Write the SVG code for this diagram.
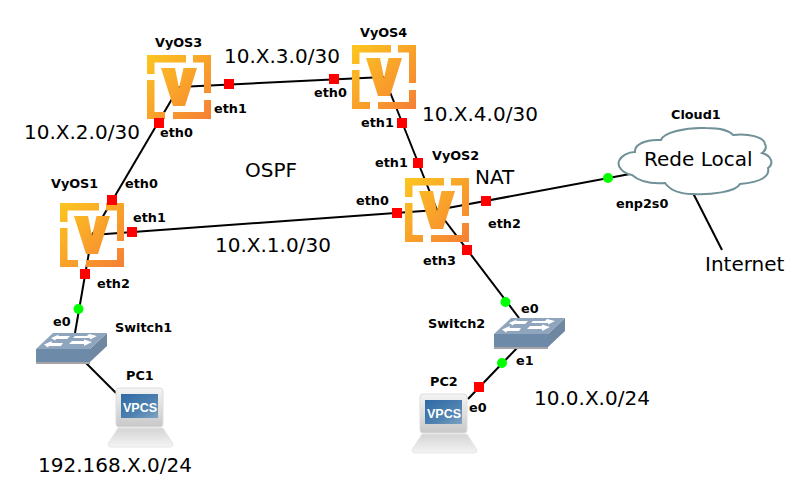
<svg xmlns="http://www.w3.org/2000/svg" width="809" height="501" viewBox="0 0 809 501">
<style>
text{font-family:"DejaVu Sans",sans-serif;fill:#000}
.l{font-size:12.800px;font-weight:bold}
.a{font-size:20px}
.c line{stroke:#000;stroke-width:2;fill:none}
.r{fill:#f00}.g{fill:#0f0}
</style>
<defs>
<linearGradient id="vg" x1="0" y1="0" x2="1" y2="1"><stop offset="0" stop-color="#fdc61f"/><stop offset="1" stop-color="#f57f35"/></linearGradient>
<linearGradient id="scr" x1="0" y1="0" x2="1" y2="1"><stop offset="0" stop-color="#2f6aa5"/><stop offset=".6" stop-color="#4f82b0"/><stop offset="1" stop-color="#7ea3c4"/></linearGradient>
<linearGradient id="base" x1="0" y1="0" x2="0" y2="1"><stop offset="0" stop-color="#d4d4d4"/><stop offset="1" stop-color="#f4f4f4"/></linearGradient>
<linearGradient id="mon" x1="0" y1="0" x2="0" y2="1"><stop offset="0" stop-color="#f4f4f4"/><stop offset="1" stop-color="#c8c8c8"/></linearGradient>
<symbol id="vyos" width="64" height="64" viewBox="0 0 64 64" overflow="visible">
<path fill="url(#vg)" d="M0 0H39V7.500H7.500V19H0ZM46 0H64V38H57V7.500H46ZM0 25H7.500V57H18V64H0ZM26 64V57H57V45H64V64ZM14 13H28L32 33L36.500 13H50L38 51H26Z"/>
</symbol>
<symbol id="switch" width="72" height="34" viewBox="0 0 72 34" overflow="visible">
<path fill="#a5a5a5" d="M0 28V31H54L54 28Z"/>
<path fill="#6d8aa8" d="M0 16H54V29H0Z"/>
<path fill="#6f87a0" d="M54 16L71 0V13L54 29Z"/>
<path fill="#8ea5bd" d="M0 16L17 0H71L54 16Z"/>
<path fill="#fff" d="M15 5L23 1.500L22 3H34L31 6H20L19 7.500ZM39 3H51L53 1L61 3L54 6.500V5H37ZM8 11.500L16 8L15.500 10H27L25 13H13L12 14.500ZM36 8H48V6.500L56 9L48 13V11H33Z"/>
</symbol>
<symbol id="pc" width="66" height="60" viewBox="0 0 66 60" overflow="visible">
<path fill="url(#base)" stroke="#e6e6e6" d="M10 40H55L65 56Q65 59 62 59H3Q0 59 0 56Z"/>
<rect x="8" y="0" width="47" height="39" rx="3" fill="url(#mon)" stroke="#ddd"/>
<rect x="13" y="6" width="37" height="24" fill="url(#scr)"/>
<text x="32" y="24" text-anchor="middle" style="font-family:'Liberation Sans',sans-serif;font-size:12.500px;font-weight:bold;fill:#fff">VPCS</text>
</symbol>
</defs>

<g id="connectors" class="c">
<line x1="92" y1="235" x2="179" y2="87"/>
<line x1="179" y1="87" x2="384" y2="77"/>
<line x1="384" y1="77" x2="437" y2="210"/>
<line x1="92" y1="235" x2="437" y2="210"/>
<line x1="437" y1="210" x2="630" y2="174"/>
<line x1="437" y1="210" x2="519" y2="318"/>
<line x1="517" y1="348" x2="468" y2="399"/>
<line x1="92" y1="235" x2="75" y2="333"/>
<line x1="85" y1="362" x2="116" y2="393"/>
<line x1="693" y1="193" x2="722" y2="250"/>
</g>

<g id="VyOS1"><use href="#vyos" x="60" y="203"/><text class="l" x="51" y="188">VyOS1</text></g>
<g id="VyOS2"><use href="#vyos" x="405" y="178"/><text class="l" x="432" y="160">VyOS2</text></g>
<g id="VyOS3"><use href="#vyos" x="147" y="55"/><text class="l" x="155" y="47">VyOS3</text></g>
<g id="VyOS4"><use href="#vyos" x="352" y="45"/><text class="l" x="360" y="37">VyOS4</text></g>
<g id="Switch1"><use href="#switch" x="36" y="333"/><text class="l" x="115" y="332">Switch1</text></g>
<g id="Switch2"><use href="#switch" x="494" y="318"/><text class="l" x="428" y="328">Switch2</text></g>
<g id="PC1"><use href="#pc" x="108" y="388"/><text class="l" x="126" y="380">PC1</text></g>
<g id="PC2"><use href="#pc" x="412" y="394"/><text class="l" x="430" y="386">PC2</text></g>
<g id="Cloud1">
<path fill="#fff" stroke="#6f9197" stroke-width="2" d="M632 175C622 173 617 166 619 161C621 156 628 152 635 152C634 145 645 139 661 140C663 133 685 127 706 128C720 128 730 131 733 135C748 133 764 137 765 144C767 148 765 151 762 153C772 156 774 164 768 168C770 176 762 182 740 184C736 192 710 195 693 194C680 194 670 190 665 183C652 184 640 182 632 175Z"/>
<text class="a" x="644" y="166">Rede Local</text>
<text class="l" x="671" y="119">Cloud1</text>
</g>

<g id="ports">
<rect class="r" x="107" y="195" width="10" height="10"/>
<rect class="r" x="154" y="118" width="10" height="10"/>
<rect class="r" x="127" y="227" width="10" height="10"/>
<rect class="r" x="80" y="269" width="10" height="10"/>
<rect class="r" x="224" y="79" width="10" height="10"/>
<rect class="r" x="329" y="74" width="10" height="10"/>
<rect class="r" x="397" y="118" width="10" height="10"/>
<rect class="r" x="413" y="158" width="10" height="10"/>
<rect class="r" x="392" y="208" width="10" height="10"/>
<rect class="r" x="481" y="196" width="10" height="10"/>
<rect class="r" x="462" y="245" width="10" height="10"/>
<rect class="r" x="474" y="382" width="10" height="10"/>
<circle class="g" cx="78.500" cy="309" r="5"/>
<circle class="g" cx="608" cy="178" r="5"/>
<circle class="g" cx="505.500" cy="302" r="5"/>
<circle class="g" cx="502" cy="363" r="5"/>
</g>

<g id="labels">
<text class="l" x="125" y="188">eth0</text>
<text class="l" x="133" y="222">eth1</text>
<text class="l" x="97" y="288">eth2</text>
<text class="l" x="53" y="326">e0</text>
<text class="l" x="160" y="137">eth0</text>
<text class="l" x="214" y="113">eth1</text>
<text class="l" x="314" y="97">eth0</text>
<text class="l" x="361" y="127">eth1</text>
<text class="l" x="375" y="167">eth1</text>
<text class="l" x="356" y="205">eth0</text>
<text class="l" x="488" y="228">eth2</text>
<text class="l" x="423" y="265">eth3</text>
<text class="l" x="521" y="313">e0</text>
<text class="l" x="516" y="365">e1</text>
<text class="l" x="469" y="412">e0</text>
<text class="l" x="616" y="208">enp2s0</text>
<text class="a" x="224" y="63">10.X.3.0/30</text>
<text class="a" x="24" y="139">10.X.2.0/30</text>
<text class="a" x="422" y="121">10.X.4.0/30</text>
<text class="a" x="245" y="177">OSPF</text>
<text class="a" x="475" y="184">NAT</text>
<text class="a" x="215" y="252">10.X.1.0/30</text>
<text class="a" x="534" y="405">10.0.X.0/24</text>
<text class="a" x="38" y="472">192.168.X.0/24</text>
<text class="a" x="705" y="271">Internet</text>
</g>
</svg>
